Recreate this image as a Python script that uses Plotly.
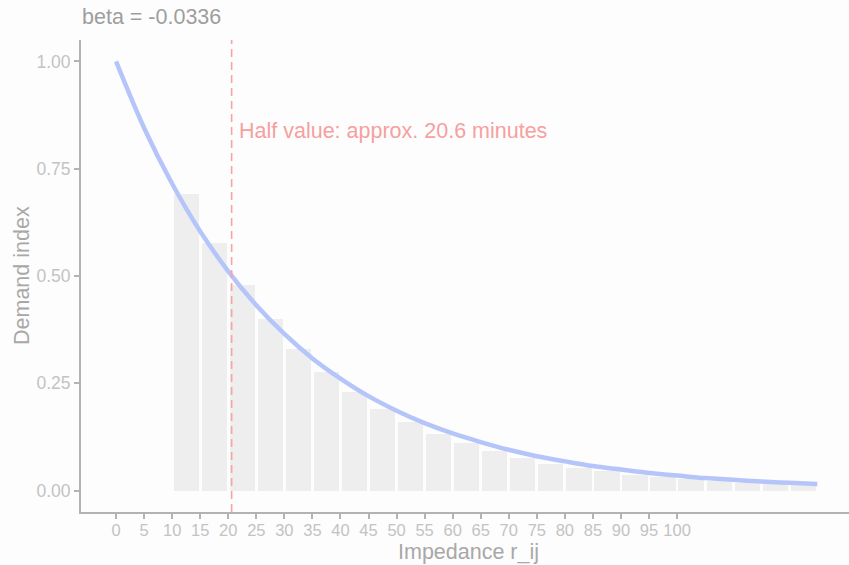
import plotly.graph_objects as go

# Curve: demand index vs impedance
curve_x = [0, 5, 10, 15, 20, 25, 30, 35, 40, 45, 50, 55, 60, 65, 70, 75, 80,
           85, 90, 95, 100, 105, 110, 115, 120, 125]
curve_y = [1.000, 0.845, 0.715, 0.604, 0.511, 0.432, 0.365, 0.308, 0.261, 0.220,
           0.186, 0.157, 0.133, 0.113, 0.095, 0.080, 0.068, 0.057, 0.049, 0.041,
           0.035, 0.029, 0.025, 0.021, 0.018, 0.015]

# Bars (centres of 5-minute bins) and heights
bar_x = [12.5, 17.5, 22.5, 27.5, 32.5, 37.5, 42.5, 47.5, 52.5, 57.5, 62.5, 67.5,
         72.5, 77.5, 82.5, 87.5, 92.5, 97.5, 102.5, 107.5, 112.5, 117.5, 122.5]
bar_y = [0.692, 0.576, 0.480, 0.399, 0.331, 0.277, 0.229, 0.190, 0.160, 0.132,
         0.110, 0.092, 0.076, 0.063, 0.053, 0.045, 0.037, 0.031, 0.026, 0.0215,
         0.018, 0.015, 0.0125]

x_ticks = list(range(0, 101, 5))
y_ticks = [0.0, 0.25, 0.5, 0.75, 1.0]
y_tick_labels = ["0.00", "0.25", "0.50", "0.75", "1.00"]

half_value = 20.6
title_text = "beta = -0.0336"
annot_text = "Half value: approx. 20.6 minutes"
x_title = "Impedance r_ij"
y_title = "Demand index"

FONT = "Liberation Sans, Arial, sans-serif"
bg = "#fdfdfd"

W, H = 849, 565
ML, MR, MT, MB = 81, 0, 40, 53
PW, PH = W - ML - MR, H - MT - MB

fig = go.Figure()
fig.add_trace(go.Bar(x=bar_x, y=bar_y, width=4.5,
                     marker=dict(color="#eeeeee", line=dict(width=0)),
                     showlegend=False, hoverinfo="skip"))
fig.add_trace(go.Scatter(x=curve_x, y=curve_y, mode="lines",
                         line=dict(color="#b5c5fa", width=4.5, shape="spline", smoothing=1.0),
                         showlegend=False))

fig.add_shape(type="line", x0=half_value, x1=half_value, y0=0, y1=1, xref="x", yref="paper",
              line=dict(color="#f9a3a3", width=1.6, dash="8px,5px"))

fig.add_annotation(x=21.6, y=0.837, xref="x", yref="y", text=annot_text, showarrow=False,
                   xanchor="left", yanchor="middle",
                   font=dict(family=FONT, size=21.5, color="#f6a0a0"))

# title and axis titles placed as annotations
fig.add_annotation(x=(80 - ML) / PW, y=1 + (MT - 17) / PH, xref="paper", yref="paper",
                   text=title_text, showarrow=False, xanchor="left", yanchor="middle",
                   font=dict(family=FONT, size=21.5, color="#9e9e9e"))
fig.add_annotation(x=(468 - ML) / PW, y=-(552 - (MT + PH)) / PH, xref="paper", yref="paper",
                   text=x_title, showarrow=False, xanchor="center", yanchor="middle",
                   font=dict(family=FONT, size=21.5, color="#a8a8a8"))
fig.add_annotation(x=(22 - ML) / PW, y=0.5, xref="paper", yref="paper",
                   text=y_title, showarrow=False, xanchor="center", yanchor="middle",
                   textangle=-90,
                   font=dict(family=FONT, size=21.5, color="#a8a8a8"))

fig.update_layout(
    width=W, height=H,
    margin=dict(l=ML, r=MR, t=MT, b=MB, autoexpand=False),
    paper_bgcolor=bg, plot_bgcolor=bg,
    bargap=0,
    xaxis=dict(range=[-6.25, 130.65], tickmode="array", tickvals=x_ticks,
               ticktext=[str(v) for v in x_ticks], automargin=False,
               showgrid=False, zeroline=False, showline=True, linecolor="#b3b3b3", linewidth=2,
               ticks="outside", ticklen=5, tickcolor="#b3b3b3", tickwidth=1.5,
               ticklabelstandoff=-3,
               tickfont=dict(family=FONT, size=16.5, color="#c3c3c3")),
    yaxis=dict(range=[-0.05, 1.05], tickmode="array", tickvals=y_ticks, ticktext=y_tick_labels,
               automargin=False,
               showgrid=False, zeroline=False, showline=True, linecolor="#b3b3b3", linewidth=2,
               ticks="outside", ticklen=5, tickcolor="#b3b3b3", tickwidth=1.5,
               tickfont=dict(family=FONT, size=17.5, color="#c3c3c3")),
)

fig.write_html("out.html", config={"displayModeBar": False},
               post_script="document.body.style.margin='0';document.body.style.padding='0';")
